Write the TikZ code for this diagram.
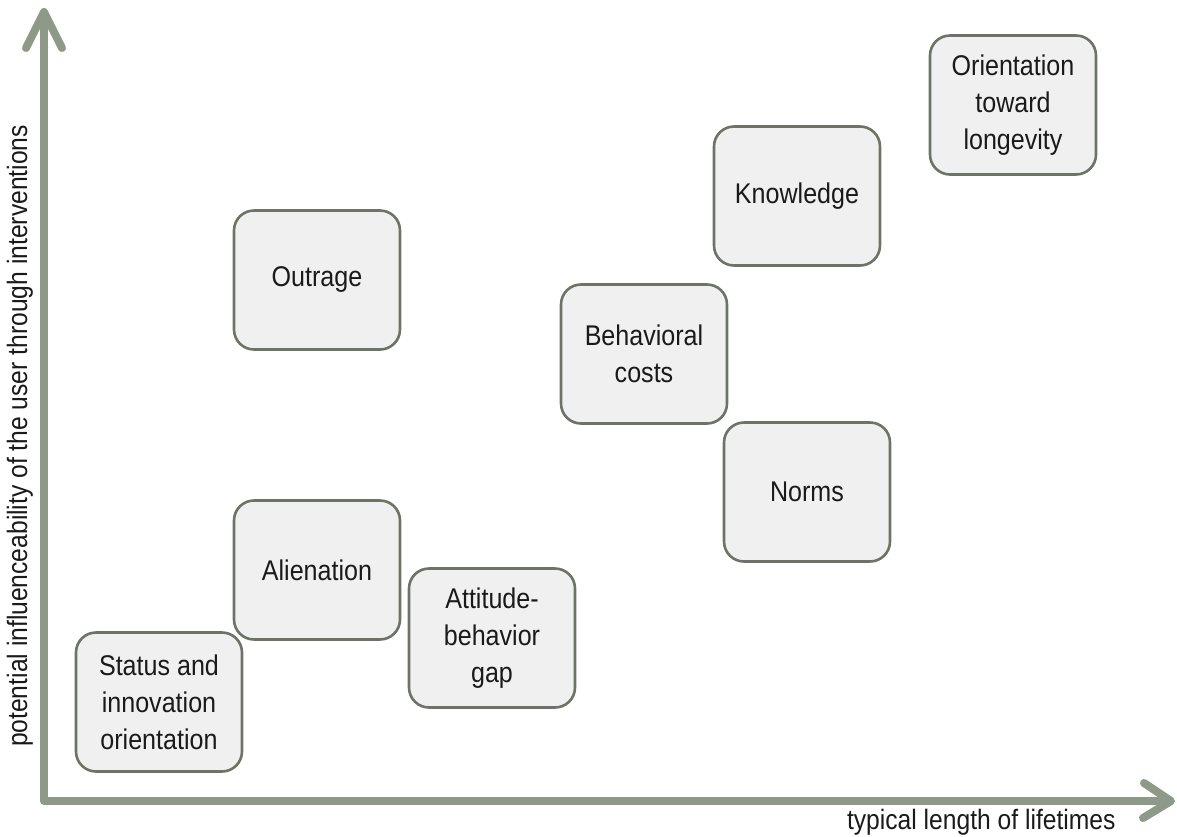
\documentclass[tikz,border=0pt]{standalone}
\usepackage{fontspec}
\setmainfont{Liberation Sans}[FakeStretch=0.88]
\definecolor{axisgray}{HTML}{8F9987}
\definecolor{boxline}{HTML}{6D7366}
\definecolor{boxfill}{HTML}{F0F0F0}
\definecolor{txt}{HTML}{1A1A1A}
\begin{document}
\begin{tikzpicture}[x=1pt,y=-1pt,
	factor/.style={draw=boxline,fill=boxfill,line width=2.6pt,rounded corners=20pt,
		minimum width=166pt,minimum height=139pt,align=center,text=txt,
		font=\fontsize{28.5}{37}\selectfont},
	axis/.style={axisgray,line width=8pt,line cap=round,line join=round},
	axislabel/.style={text=txt,font=\fontsize{28}{32}\selectfont}]
		\useasboundingbox (0,0) rectangle (1177,836);
		% Axes
		\coordinate (origin) at (44,801);
		\coordinate (ytip) at (44,12);
		\coordinate (xtip) at (1171,801);
		\draw[axis,line cap=butt] (ytip) -- (origin) -- (xtip);
		\draw[axis] (26,48) -- (ytip) -- (62,48);
		\draw[axis] (1144,783) -- (xtip) -- (1143,818);
		\node[axislabel,rotate=90] (ylab) at (20,436) {potential influenceability of the user through interventions};
		\node[axislabel,anchor=east] (xlab) at (1119,822) {typical length of lifetimes};
		% Factors
		\node[factor] (status) at (159,702) {Status and\\innovation\\orientation};
		\node[factor] (alienation) at (317,570) {Alienation};
		\node[factor] (gap) at (492,638) {Attitude-\\behavior\\gap};
		\node[factor] (outrage) at (317,280) {Outrage};
		\node[factor] (costs) at (644,354) {Behavioral\\costs};
		\node[factor] (knowledge) at (797,196) {Knowledge};
		\node[factor] (norms) at (807,492) {Norms};
		\node[factor] (longevity) at (1013,105) {Orientation\\toward\\longevity};
\end{tikzpicture}
\end{document}
